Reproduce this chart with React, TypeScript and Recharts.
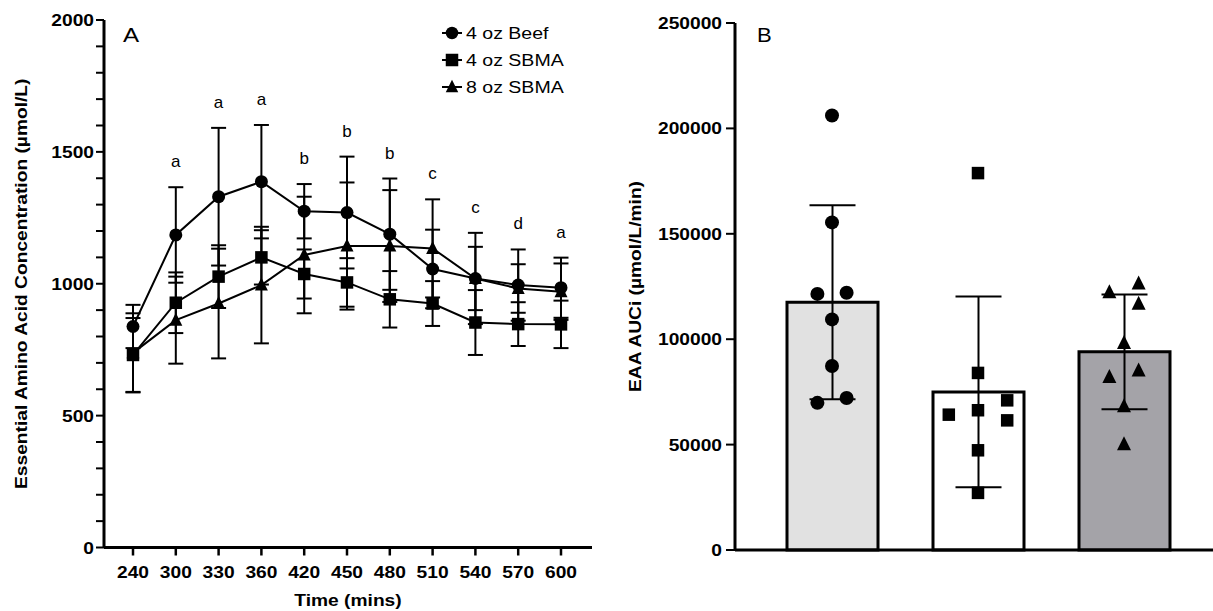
import { LineChart, Line, XAxis, YAxis, ErrorBar, LabelList, ComposedChart, Bar, Cell, Scatter } from 'recharts'

const FONT = '"Liberation Sans", Arial, Helvetica, sans-serif'
// the figure's Helvetica is set wide, so text is stretched a little
const WIDE = 1.2

const seriesNames = ['4 oz Beef', '4 oz SBMA', '8 oz SBMA']
const seriesShapes = ['circle', 'square', 'triangle']

// Panel A — EAA concentration over time (µmol/L), mean and SD
const times = ['240', '300', '330', '360', '420', '450', '480', '510', '540', '570', '600']
const beefMean = [838, 1185, 1330, 1387, 1275, 1270, 1188, 1056, 1020, 995, 985]
const beefSd = [82, 181, 261, 215, 103, 212, 211, 149, 173, 135, 114]
const sbma4Mean = [730, 928, 1027, 1100, 1037, 1005, 941, 925, 853, 847, 846]
const sbma4Sd = [140, 115, 119, 103, 93, 92, 107, 85, 123, 83, 90]
const sbma8Mean = [738, 862, 925, 995, 1109, 1143, 1143, 1134, 1020, 982, 970]
const sbma8Sd = [150, 165, 208, 221, 221, 241, 212, 186, 120, 92, 107]
const letters = ['', 'a', 'a', 'a', 'b', 'b', 'b', 'c', 'c', 'd', 'a']
const yTicksA = [0, 100, 200, 300, 400, 500, 600, 700, 800, 900, 1000, 1100, 1200, 1300, 1400, 1500, 1600, 1700, 1800, 1900, 2000]

// Panel B — EAA AUCi, mean and SD plus individual subjects
const aucMean = [117500, 75000, 94000]
const aucSd = [46000, 45200, 27200]
const beefAuc = [206100, 155400, 121500, 122000, 109400, 87300, 69800, 72100]
const sbma4Auc = [178800, 84000, 64200, 66300, 71000, 61500, 47300, 27100]
const sbma8Auc = [126400, 122300, 116800, 98200, 82100, 85200, 68200, 50200]
// horizontal slot of each dot inside its bar (spread of overlapping points)
const beefSlot = [0, 0, -1, 1, 0, 0, -1, 1]
const sbma4Slot = [0, 0, -2, 0, 2, 2, 0, 0]
const sbma8Slot = [1, -1, 1, 0, -1, 1, 0, 0]
const yTicksB = [0, 50000, 100000, 150000, 200000, 250000]
const barFills = ['#e1e1e1', '#ffffff', '#a4a3a8']

const lineData = times.map((t, i) => ({
  time: t,
  beef: beefMean[i],
  beefSd: beefSd[i],
  sbma4: sbma4Mean[i],
  sbma4Sd: sbma4Sd[i],
  sbma8: sbma8Mean[i],
  sbma8Sd: sbma8Sd[i],
  top: Math.max(beefMean[i] + beefSd[i], sbma4Mean[i] + sbma4Sd[i], sbma8Mean[i] + sbma8Sd[i]),
  letter: letters[i],
}))

const barData = seriesNames.map((name, i) => ({ group: name, mean: aucMean[i], sd: aucSd[i] }))

const toPoints = (vals: number[], slots: number[], g: number) =>
  vals.map((v, i) => ({ x: g + slots[i] * 0.1, y: v }))

function WideText({ x, y, anchor = 'middle', size = 16, bold = true, rotate = 0, stretch = WIDE, children }: any) {
  return (
    <text
      transform={`translate(${x},${y})${rotate ? ` rotate(${rotate})` : ''} scale(${stretch},1)`}
      textAnchor={anchor}
      fontFamily={FONT}
      fontSize={size}
      fontWeight={bold ? 700 : 400}
      fill="#000"
    >
      {children}
    </text>
  )
}

function Marker({ kind, cx, cy, size }: { kind: string; cx: number; cy: number; size: number }) {
  const h = size / 2
  if (kind === 'circle') return <circle cx={cx} cy={cy} r={h} fill="#000" />
  if (kind === 'square') return <rect x={cx - h} y={cy - h} width={size} height={size} fill="#000" />
  return <polygon points={`${cx},${cy - h - 1} ${cx - h},${cy + h - 1} ${cx + h},${cy + h - 1}`} fill="#000" />
}

function YTickA({ x, y, payload }: any) {
  if (payload.value % 500 !== 0) return <g />
  return <WideText x={x} y={y + 6} anchor="end">{payload.value}</WideText>
}

function XTickA({ x, y, payload }: any) {
  return <WideText x={x} y={y + 20}>{payload.value}</WideText>
}

function YTickB({ x, y, payload }: any) {
  return <WideText x={x} y={y + 6} anchor="end">{payload.value}</WideText>
}

function LetterLabel({ x, y, value }: any) {
  if (!value) return <g />
  return (
    <text x={x} y={y - 20} textAnchor="middle" fontFamily={FONT} fontSize={17} fill="#000">
      {value}
    </text>
  )
}

function dotOf(kind: string, size: number) {
  return (p: any) => <Marker key={`${kind}-${p.index}`} kind={kind} cx={p.cx} cy={p.cy} size={size} />
}

function PanelA() {
  return (
    <LineChart width={600} height={611} data={lineData} margin={{ top: 20, right: 8, left: 0, bottom: 0 }}>
      <XAxis
        dataKey="time"
        type="category"
        padding={{ left: 29, right: 31 }}
        height={63.5}
        axisLine={{ stroke: '#000', strokeWidth: 3 }}
        tickLine={{ stroke: '#000', strokeWidth: 2.5 }}
        tickSize={8}
        tickMargin={2}
        tick={<XTickA />}
        interval={0}
        label={(p: any) => (
          <WideText x={p.viewBox.x + p.viewBox.width / 2} y={606}>Time (mins)</WideText>
        )}
      />
      <YAxis
        domain={[0, 2000]}
        ticks={yTicksA}
        width={104}
        interval={0}
        axisLine={{ stroke: '#000', strokeWidth: 3 }}
        tickLine={{ stroke: '#000', strokeWidth: 2 }}
        tickSize={8}
        tickMargin={2}
        tick={<YTickA />}
        label={(p: any) => (
          <WideText x={27} y={p.viewBox.y + p.viewBox.height / 2} rotate={-90}>
            Essential Amino Acid Concentration (µmol/L)
          </WideText>
        )}
      />
      <Line dataKey="sbma8" stroke="#000" strokeWidth={2} dot={dotOf('triangle', 13)} activeDot={false} isAnimationActive={false}>
        <ErrorBar dataKey="sbma8Sd" direction="y" width={7.5} stroke="#000" strokeWidth={2} />
      </Line>
      <Line dataKey="sbma4" stroke="#000" strokeWidth={2} dot={dotOf('square', 12.5)} activeDot={false} isAnimationActive={false}>
        <ErrorBar dataKey="sbma4Sd" direction="y" width={7.5} stroke="#000" strokeWidth={2} />
      </Line>
      <Line dataKey="beef" stroke="#000" strokeWidth={2} dot={dotOf('circle', 13)} activeDot={false} isAnimationActive={false}>
        <ErrorBar dataKey="beefSd" direction="y" width={7.5} stroke="#000" strokeWidth={2} />
      </Line>
      <Line dataKey="top" stroke="none" dot={false} activeDot={false} isAnimationActive={false}>
        <LabelList dataKey="letter" content={LetterLabel} />
      </Line>
    </LineChart>
  )
}

function PanelB() {
  return (
    <ComposedChart width={613} height={611} data={barData} margin={{ top: 23, right: 0, left: 0, bottom: 0 }}>
      <XAxis
        xAxisId="cat"
        dataKey="group"
        type="category"
        padding={{ left: 24, right: 16 }}
        height={61}
        axisLine={{ stroke: '#000', strokeWidth: 3 }}
        tick={false}
        tickLine={false}
      />
      <XAxis xAxisId="pts" dataKey="x" type="number" domain={[-0.6644, 2.6096]} allowDataOverflow hide />
      <YAxis
        domain={[0, 250000]}
        ticks={yTicksB}
        width={135}
        interval={0}
        axisLine={{ stroke: '#000', strokeWidth: 3 }}
        tickLine={{ stroke: '#000', strokeWidth: 2 }}
        tickSize={9}
        tickMargin={4}
        tick={<YTickB />}
        label={(p: any) => (
          <WideText x={41} y={p.viewBox.y + p.viewBox.height / 2} rotate={-90}>
            EAA AUCi (µmol/L/min)
          </WideText>
        )}
      />
      <Bar xAxisId="cat" dataKey="mean" barSize={91} stroke="#000" strokeWidth={3} isAnimationActive={false}>
        {barData.map((d, i) => (
          <Cell key={d.group} fill={barFills[i]} />
        ))}
        <ErrorBar dataKey="sd" direction="y" width={23} stroke="#000" strokeWidth={2} />
      </Bar>
      <Scatter xAxisId="pts" data={toPoints(beefAuc, beefSlot, 0)} dataKey="y" isAnimationActive={false}
        shape={(p: any) => <Marker kind="circle" cx={p.cx} cy={p.cy} size={14} />} />
      <Scatter xAxisId="pts" data={toPoints(sbma4Auc, sbma4Slot, 1)} dataKey="y" isAnimationActive={false}
        shape={(p: any) => <Marker kind="square" cx={p.cx} cy={p.cy} size={12.5} />} />
      <Scatter xAxisId="pts" data={toPoints(sbma8Auc, sbma8Slot, 2)} dataKey="y" isAnimationActive={false}
        shape={(p: any) => <Marker kind="triangle" cx={p.cx} cy={p.cy} size={14} />} />
    </ComposedChart>
  )
}

export default function App() {
  return (
    <div style={{ position: 'absolute', left: 0, top: 0, width: 1213, height: 611, background: '#fff' }}>
      <div style={{ position: 'absolute', left: 0, top: 0 }}>
        <PanelA />
      </div>
      <div style={{ position: 'absolute', left: 600, top: 0 }}>
        <PanelB />
      </div>
      <svg width={1213} height={611} style={{ position: 'absolute', left: 0, top: 0, pointerEvents: 'none' }}>
        <WideText x={123} y={42} anchor="start" size={21} bold={false} stretch={1.15}>A</WideText>
        <WideText x={757} y={42} anchor="start" size={21} bold={false} stretch={1.05}>B</WideText>
        {seriesNames.map((name, i) => {
          const cy = 33 + i * 27
          return (
            <g key={name}>
              <line x1={442} x2={462} y1={cy} y2={cy} stroke="#000" strokeWidth={2} />
              <Marker kind={seriesShapes[i]} cx={452} cy={cy} size={12.5} />
              <WideText x={466} y={cy + 6} anchor="start" size={17} bold={false} stretch={1.15}>{name}</WideText>
            </g>
          )
        })}
      </svg>
    </div>
  )
}
